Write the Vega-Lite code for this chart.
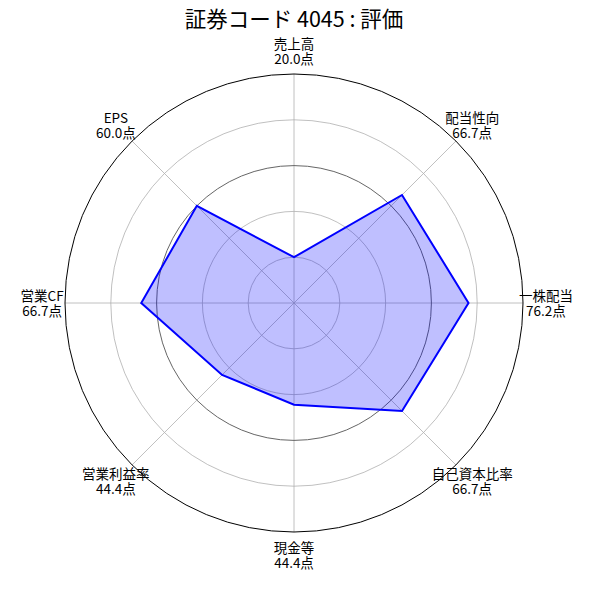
{
  "$schema": "https://vega.github.io/schema/vega-lite/v6.json",
  "description": "Radar chart of the evaluation scores for securities code 4045",
  "width": 588,
  "height": 526,
  "autosize": {"type": "none"},
  "padding": {"left": 0, "top": 40, "right": 12, "bottom": 26},
  "title": {
    "text": "証券コード 4045 : 評価",
    "font": "Noto Sans CJK JP",
    "fontSize": 21.5,
    "fontWeight": "normal",
    "anchor": "middle",
    "offset": 7
  },
  "config": {
    "view": {"stroke": null},
    "font": "Noto Sans CJK JP"
  },
  "datasets": {
    "scores": [
      {"axis": "売上高", "score": 20.0, "idx": 0},
      {"axis": "配当性向", "score": 66.7, "idx": 1},
      {"axis": "一株配当", "score": 76.2, "idx": 2},
      {"axis": "自己資本比率", "score": 66.7, "idx": 3},
      {"axis": "現金等", "score": 44.4, "idx": 4},
      {"axis": "営業利益率", "score": 44.4, "idx": 5},
      {"axis": "営業CF", "score": 66.7, "idx": 6},
      {"axis": "EPS", "score": 60.0, "idx": 7}
    ],
    "rings": [
      {"r": 20, "kind": "grid"},
      {"r": 40, "kind": "grid"},
      {"r": 60, "kind": "mid"},
      {"r": 80, "kind": "grid"},
      {"r": 100, "kind": "outer"}
    ]
  },
  "layer": [
    {
      "data": {"name": "rings"},
      "transform": [
        {"filter": "datum.kind == 'grid'"},
        {"calculate": "0", "as": "cx"},
        {"calculate": "0", "as": "cy"}
      ],
      "mark": {"type": "point", "shape": "circle", "filled": false, "color": "#b0b0b0", "strokeWidth": 0.8, "opacity": 1},
      "encoding": {
        "x": {"field": "cx", "type": "quantitative", "scale": {"domain": [-128.38, 128.38], "nice": false, "zero": false}, "axis": null},
        "y": {"field": "cy", "type": "quantitative", "scale": {"domain": [-114.85, 114.85], "nice": false, "zero": false}, "axis": null},
        "size": {"field": "r", "type": "quantitative", "scale": {"type": "pow", "exponent": 2, "domain": [0, 100], "range": [0, 209764]}, "legend": null}
      }
    },
    {
      "data": {"name": "scores"},
      "transform": [
        {"calculate": "datum.idx * PI / 4", "as": "angle"},
        {"calculate": "0", "as": "cx"},
        {"calculate": "0", "as": "cy"},
        {"calculate": "100 * sin(datum.angle)", "as": "sx"},
        {"calculate": "100 * cos(datum.angle)", "as": "sy"}
      ],
      "mark": {"type": "rule", "color": "#b0b0b0", "strokeWidth": 0.8},
      "encoding": {
        "x": {"field": "cx", "type": "quantitative", "axis": null},
        "y": {"field": "cy", "type": "quantitative", "axis": null},
        "x2": {"field": "sx"},
        "y2": {"field": "sy"}
      }
    },
    {
      "data": {"name": "rings"},
      "transform": [
        {"filter": "datum.kind == 'mid'"},
        {"calculate": "0", "as": "cx"},
        {"calculate": "0", "as": "cy"}
      ],
      "mark": {"type": "point", "shape": "circle", "filled": false, "color": "#666666", "strokeWidth": 1, "opacity": 1},
      "encoding": {
        "x": {"field": "cx", "type": "quantitative", "axis": null},
        "y": {"field": "cy", "type": "quantitative", "axis": null},
        "size": {"field": "r", "type": "quantitative", "legend": null}
      }
    },
    {
      "data": {"name": "scores"},
      "transform": [
        {"calculate": "datum.idx * PI / 4", "as": "angle"},
        {"calculate": "datum.score * sin(datum.angle)", "as": "px"},
        {"calculate": "datum.score * cos(datum.angle)", "as": "py"}
      ],
      "mark": {"type": "line", "interpolate": "linear-closed", "fill": "#0000ff", "fillOpacity": 0.25, "stroke": "#0000ff", "strokeWidth": 2},
      "encoding": {
        "x": {"field": "px", "type": "quantitative", "axis": null},
        "y": {"field": "py", "type": "quantitative", "axis": null},
        "order": {"field": "idx", "type": "quantitative"}
      }
    },
    {
      "data": {"name": "scores"},
      "transform": [
        {"calculate": "datum.idx * PI / 4", "as": "angle"},
        {"calculate": "110 * sin(datum.angle)", "as": "lx"},
        {"calculate": "110 * cos(datum.angle)", "as": "ly"},
        {"calculate": "datum.axis + '\\n' + format(datum.score, '.1f') + '点'", "as": "label"}
      ],
      "mark": {"type": "text", "align": "center", "baseline": "middle", "dy": -6, "fontSize": 13.5, "lineHeight": 15, "lineBreak": "\n", "color": "#000000"},
      "encoding": {
        "x": {"field": "lx", "type": "quantitative", "axis": null},
        "y": {"field": "ly", "type": "quantitative", "axis": null},
        "text": {"field": "label", "type": "nominal"}
      }
    },
    {
      "data": {"name": "rings"},
      "transform": [
        {"filter": "datum.kind == 'outer'"},
        {"calculate": "0", "as": "cx"},
        {"calculate": "0", "as": "cy"}
      ],
      "mark": {"type": "point", "shape": "circle", "filled": false, "color": "#000000", "strokeWidth": 1, "opacity": 1},
      "encoding": {
        "x": {"field": "cx", "type": "quantitative", "axis": null},
        "y": {"field": "cy", "type": "quantitative", "axis": null},
        "size": {"field": "r", "type": "quantitative", "legend": null}
      }
    }
  ]
}
